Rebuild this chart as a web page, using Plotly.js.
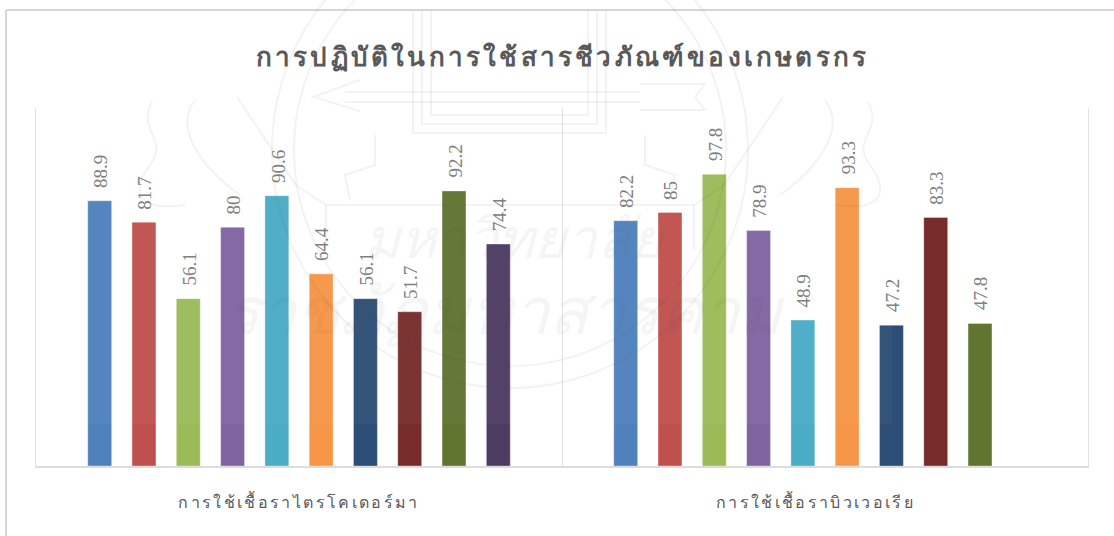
<!DOCTYPE html>
<html>
<head>
<meta charset="utf-8">
<script src="https://cdn.plot.ly/plotly-3.0.1.min.js"></script>
<style>
  html, body { margin: 0; padding: 0; background: #fff; }
  #chart { width: 1114px; height: 536px; }
  .gtitle { letter-spacing: 3.2px; }
  .xtick text { letter-spacing: 2.35px; }
</style>
</head>
<body>
<div id="chart"></div>
<script>
const chartTitle = "การปฏิบัติในการใช้สารชีวภัณฑ์ของเกษตรกร";
const categories = ["การใช้เชื้อราไตรโคเดอร์มา", "การใช้เชื้อราบิวเวอเรีย\u00a0\u00a0\u00a0"];
const seriesNames = ["ชุด 1", "ชุด 2", "ชุด 3", "ชุด 4", "ชุด 5", "ชุด 6", "ชุด 7", "ชุด 8", "ชุด 9", "ชุด 10"];
const trichoderma = [88.9, 81.7, 56.1, 80, 90.6, 64.4, 56.1, 51.7, 92.2, 74.4];
const beauveria = [82.2, 85, 97.8, 78.9, 48.9, 93.3, 47.2, 83.3, 47.8, null];
const palette = ["#4f81bd", "#c0504d", "#9bbb59", "#8064a2", "#4bacc6", "#f79646", "#2c4d75", "#772c2a", "#5f7530", "#4d3b62"];
const watermarkLines = ["มหาวิทยาลัย", "ราชภัฏมหาสารคาม"];
const barGap = 0.158;

// Plot box in page pixels, used to place the frame and the seal
const box = { l: 36, r: 26, t: 108, b: 70, w: 1114, h: 536 };
const plotW = box.w - box.l - box.r;
const plotH = box.h - box.t - box.b;
const fx = x => (x - box.l) / plotW;
const fy = y => 1 - (y - box.t) / plotH;

// One trace per bar colour; the last series only has a value in the first group.
const traces = seriesNames.map((name, i) => ({
  type: "bar",
  name,
  x: categories,
  y: [trichoderma[i], beauveria[i]],
  marker: { color: palette[i], line: { color: "rgba(255,255,255,0.35)", width: 1 } },
  hoverinfo: "x+y"
}));

// Value labels stand well clear of the bar tops, so they are annotations on the same axes
const slotWidth = (1 - barGap) / seriesNames.length;
const valueLabels = [trichoderma, beauveria].flatMap((values, group) =>
  values.flatMap((v, i) => v === null ? [] : [{
    text: String(v),
    xref: "x",
    yref: "y",
    x: group + (i - (seriesNames.length - 1) / 2) * slotWidth,
    y: v,
    xanchor: "center",
    yanchor: "bottom",
    yshift: 11,
    xshift: 1,
    textangle: -90,
    showarrow: false,
    font: { family: "Liberation Serif, serif", size: 19, color: "#808080" }
  }])
);

const frame = { color: "#d6d6d6", width: 2 };
const sealInk = { color: "rgba(90,90,90,0.07)", width: 2 };

const paperShape = extra => Object.assign({ xref: "paper", yref: "paper", layer: "above" }, extra);
const sealLine = pts => paperShape({
  type: "path",
  path: "M " + pts.map(p => fx(p[0]) + " " + fy(p[1])).join(" L "),
  line: sealInk
});
const sealCurve = (start, segs) => paperShape({
  type: "path",
  path: "M " + fx(start[0]) + " " + fy(start[1]) + " " +
    segs.map(s => "C " + s.map(p => fx(p[0]) + " " + fy(p[1])).join(" ")).join(" "),
  line: sealInk
});
const sealRing = (cx, cy, r) => paperShape({
  type: "circle",
  x0: fx(cx - r), x1: fx(cx + r), y0: fy(cy + r), y1: fy(cy - r),
  line: sealInk
});
const mirror = pts => pts.map(p => [1020 - p[0], p[1]]);

// Pale university seal behind the whole page: rings, arrow, tiered frames, flames
const sealShapes = [
  paperShape({ type: "rect", x0: fx(84), x1: fx(892), y0: fy(424), y1: fy(11),
    fillcolor: "rgba(255,255,255,0.035)", line: { width: 0 } }),
  sealRing(510, 150, 238),
  sealRing(510, 150, 216),
  sealLine([[345, 92], [640, 92]]),
  sealLine([[345, 102], [640, 102]]),
  sealLine([[360, 80], [313, 97], [360, 111]]),
  sealLine([[640, 84], [705, 84], [695, 97], [705, 110], [640, 110]]),
  sealLine([[413, 11], [413, 133], [606, 133], [606, 11]]),
  sealLine([[422, 11], [422, 124], [597, 124], [597, 11]]),
  sealLine([[431, 11], [431, 115], [588, 115], [588, 11]]),
  sealLine([[326, 205], [694, 205]]),
  sealLine([[326, 205], [326, 250]]),
  sealLine([[694, 205], [694, 250]]),
  sealLine([[237, 97], [296, 185], [326, 205]]),
  sealLine(mirror([[237, 97], [296, 185], [326, 205]])),
  sealLine([[375, 135], [375, 165], [345, 175], [350, 200]]),
  sealLine(mirror([[375, 135], [375, 165], [345, 175], [350, 200]])),
  sealCurve([152, 102], [[[136, 130], [170, 140], [150, 165]], [[132, 190], [135, 212], [185, 205]]]),
  sealCurve([195, 100], [[[172, 130], [205, 170], [240, 195]]]),
  sealCurve([868, 102], [[[884, 130], [850, 140], [870, 165]], [[888, 190], [885, 212], [835, 205]]]),
  sealCurve([825, 100], [[[848, 130], [815, 170], [780, 195]]])
];

const layout = {
  width: box.w,
  height: box.h,
  margin: { l: box.l, r: box.r, t: box.t, b: box.b, pad: 0 },
  paper_bgcolor: "#ffffff",
  plot_bgcolor: "#ffffff",
  showlegend: false,
  barmode: "group",
  bargap: barGap,
  bargroupgap: 0.46,
  title: {
    text: "<b>" + chartTitle + "</b>",
    x: 0.505,
    xanchor: "center",
    y: 0.893,
    yanchor: "middle",
    font: { family: "Liberation Serif, serif", size: 26, color: "#595959" }
  },
  xaxis: {
    type: "category",
    tickson: "boundaries",
    showgrid: true,
    gridcolor: "#e2e2e2",
    gridwidth: 1,
    showline: true,
    linecolor: "#dcdcdc",
    linewidth: 2,
    ticks: "",
    ticklabelstandoff: 21,
    tickfont: { family: "Liberation Serif, serif", size: 16, color: "#595959" }
  },
  yaxis: {
    range: [0, 120],
    showgrid: false,
    zeroline: false,
    showticklabels: false,
    ticks: "",
    showline: true,
    mirror: true,
    linecolor: "#e2e2e2",
    linewidth: 1
  },
  shapes: [
    // Outer frame: top edge and left edge, both running off the page
    { type: "line", xref: "paper", yref: "paper", x0: fx(6), x1: fx(1116), y0: fy(10), y1: fy(10), line: frame },
    { type: "line", xref: "paper", yref: "paper", x0: fx(6), x1: fx(6), y0: fy(10), y1: fy(540), line: frame },
    ...sealShapes
  ],
  annotations: [
    ...valueLabels,
    { text: "<i>" + watermarkLines[0] + "</i>", xref: "paper", yref: "paper", x: fx(515), y: fy(240),
      showarrow: false, xanchor: "center", yanchor: "middle",
      font: { family: "Liberation Serif, serif", size: 55, color: "rgba(90,90,90,0.06)" } },
    { text: "<i>" + watermarkLines[1] + "</i>", xref: "paper", yref: "paper", x: fx(505), y: fy(312),
      showarrow: false, xanchor: "center", yanchor: "middle",
      font: { family: "Liberation Serif, serif", size: 65, color: "rgba(90,90,90,0.06)" } }
  ]
};

Plotly.newPlot("chart", traces, layout, { staticPlot: true, displayModeBar: false });
</script>
</body>
</html>
